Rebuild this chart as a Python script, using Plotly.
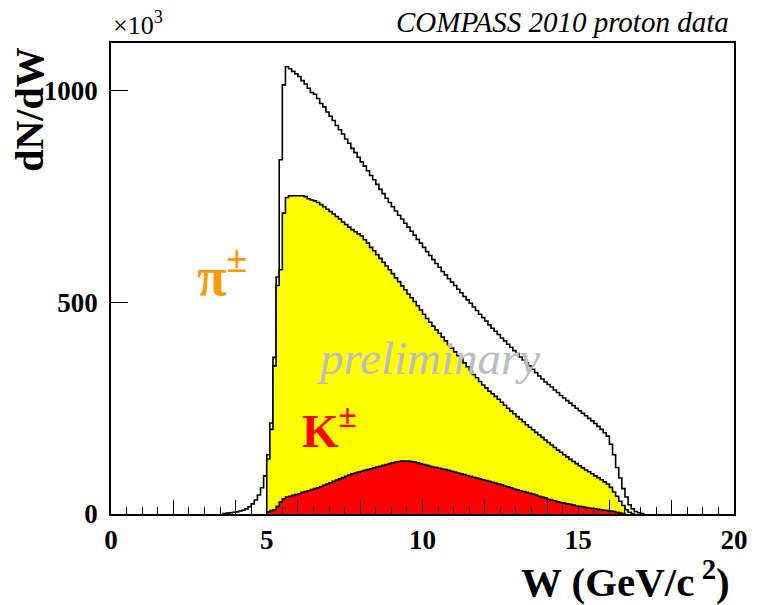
import numpy as np
import plotly.graph_objects as go

# Histogram binning (GeV/c^2)
BIN_WIDTH = 0.1

# All hadrons, counts per bin in units of 10^3, first bin starts at W = 3.6
total_start = 3.6
total_counts = [
    1, 2, 3, 4, 5, 7, 9, 12, 17, 24,
    33, 45, 62, 90, 140, 215, 370, 560, 837, 1014,
    1057, 1052, 1046, 1040, 1034, 1024, 1016, 1006, 996, 992,
    982, 970, 962, 950, 940, 930, 918, 908, 898, 886,
    876, 864, 854, 843, 832, 822, 811, 800, 790, 779,
    767, 757, 746, 736, 726, 716, 706, 697, 687, 678,
    668, 659, 649, 640, 630, 620, 611, 601, 592, 583,
    573, 565, 556, 548, 540, 531, 523, 514, 506, 498,
    489, 481, 472, 464, 456, 447, 439, 432, 424, 416,
    409, 401, 394, 386, 379, 371, 364, 357, 350, 342,
    334, 326, 319, 312, 306, 300, 293, 287, 280, 274,
    268, 262, 256, 250, 244, 238, 232, 226, 220, 214,
    207, 200, 192, 184, 165, 140, 110, 85, 60, 40,
    22, 12, 6, 3, 1,
]

# Identified pions, first bin starts at W = 5.0
pion_start = 5.0
pion_counts = [
    130, 200, 350, 540, 577, 711, 748, 752, 752, 752,
    752, 752, 750, 745, 742, 740, 736, 731, 726, 720,
    715, 709, 703, 697, 690, 684, 678, 672, 667, 662,
    657, 648, 640, 630, 622, 613, 604, 595, 586, 577,
    568, 558, 549, 539, 530, 520, 511, 502, 492, 482,
    472, 462, 453, 444, 435, 427, 418, 409, 400, 392,
    383, 374, 366, 357, 348, 339, 330, 322, 313, 305,
    298, 290, 284, 278, 271, 264, 257, 250, 243, 237,
    230, 224, 218, 211, 205, 199, 193, 187, 181, 175,
    169, 163, 157, 151, 146, 140, 135, 129, 124, 119,
    114, 109, 104, 100, 95, 90, 86, 81, 76, 71,
    63, 52, 42, 30, 20, 10, 4, 1,
]

# Identified kaons, first bin starts at W = 5.0
kaon_start = 5.0
kaon_counts = [
    5, 8, 10, 18, 28, 36, 40, 42, 44, 46,
    48, 51, 53, 55, 58, 60, 62, 65, 68, 71,
    74, 77, 80, 83, 86, 89, 92, 95, 97, 99,
    101, 103, 105, 107, 109, 111, 113, 115, 117, 119,
    121, 123, 124, 125, 125, 125, 124, 123, 121, 119,
    117, 115, 113, 111, 110, 108, 106, 105, 103, 101,
    99, 97, 95, 93, 91, 89, 87, 85, 83, 81,
    79, 77, 75, 73, 71, 69, 66, 64, 62, 59,
    57, 55, 53, 51, 49, 47, 45, 42, 40, 38,
    35, 33, 31, 29, 27, 26, 24, 23, 21, 19,
    18, 17, 15, 14, 13, 12, 11, 10, 9, 8,
    7, 6, 4, 2, 1,
]

X_RANGE = [0, 20]
Y_RANGE = [0, 1113]
x_label_vals = [0, 5, 10, 15, 20]
y_label_vals = [0, 500, 1000]

SERIF = "Liberation Serif"


def step_xy(start, counts):
    """Outline of a histogram: bin edges with the counts held across each bin."""
    counts = np.asarray(counts, dtype=float)
    edges = start + BIN_WIDTH * np.arange(len(counts) + 1)
    x = np.concatenate([[edges[0]], edges[:-1], [edges[-1], edges[-1]]])
    y = np.concatenate([[0.0], counts, [counts[-1], 0.0]])
    return x, y


fig = go.Figure()

tx, ty = step_xy(total_start, total_counts)
fig.add_trace(go.Scatter(x=tx, y=ty, mode="lines", line_shape="hv",
                         line=dict(color="black", width=1.6),
                         hoverinfo="skip", showlegend=False))

px_, py_ = step_xy(pion_start, pion_counts)
fig.add_trace(go.Scatter(x=px_, y=py_, mode="lines", line_shape="hv",
                         fill="toself", fillcolor="#ffff00",
                         line=dict(color="black", width=1.6),
                         hoverinfo="skip", showlegend=False))

kx, ky = step_xy(kaon_start, kaon_counts)
fig.add_trace(go.Scatter(x=kx, y=ky, mode="lines", line_shape="hv",
                         fill="toself", fillcolor="#ff0000",
                         line=dict(color="black", width=1.6),
                         hoverinfo="skip", showlegend=False))

tick_font = dict(family=SERIF, size=27, color="black", weight="bold")

fig.update_layout(
    width=760, height=605,
    margin=dict(l=111, r=24, t=43, b=91),
    paper_bgcolor="white", plot_bgcolor="white",
    xaxis=dict(
        range=X_RANGE, showgrid=False, zeroline=False,
        showline=True, linecolor="black", linewidth=1.6, mirror=True,
        tickmode="array", tickvals=list(range(0, 21, 2)),
        ticks="inside", ticklen=14, tickwidth=1.4, tickcolor="black",
        showticklabels=False,
        minor=dict(dtick=0.5, tick0=0, ticks="inside", ticklen=7,
                   tickwidth=1.4, tickcolor="black"),
    ),
    xaxis2=dict(
        range=X_RANGE, overlaying="x", anchor="y", side="bottom",
        showgrid=False, zeroline=False, showline=False,
        tickmode="array", tickvals=x_label_vals,
        ticktext=[str(v) for v in x_label_vals],
        ticks="", tickfont=tick_font, ticklabelstandoff=7,
    ),
    yaxis=dict(
        range=Y_RANGE, showgrid=False, zeroline=False,
        showline=True, linecolor="black", linewidth=1.6, mirror=True,
        tickmode="array", tickvals=y_label_vals,
        ticktext=[str(v) for v in y_label_vals],
        ticks="inside", ticklen=17, tickwidth=1.4, tickcolor="black",
        tickfont=tick_font, ticklabelstandoff=6,
    ),
)

# the label axis needs a trace of its own to be drawn
fig.add_trace(go.Scatter(x=[X_RANGE[0], X_RANGE[1]], y=[None, None],
                         xaxis="x2", yaxis="y", mode="lines",
                         hoverinfo="skip", showlegend=False))

annotations = [
    # axis titles
    dict(text="W (GeV/c<sup> 2</sup>)", xref="paper", yref="paper",
         x=0.997, y=-0.138, xanchor="right", yanchor="middle",
         font=dict(family=SERIF, size=41, color="black", weight="bold")),
    dict(text="dN/dW", xref="paper", yref="paper", textangle=-90,
         x=-0.130, y=0.995, xanchor="center", yanchor="top",
         font=dict(family=SERIF, size=40, color="black", weight="bold")),
    # scale factor of the y axis
    dict(text="×10<sup>3</sup>", xref="paper", yref="paper",
         x=0.0, y=1.0, xanchor="left", yanchor="bottom", yshift=1,
         font=dict(family=SERIF, size=26, color="black")),
    # data set header
    dict(text="COMPASS 2010 proton data", xref="paper", yref="paper",
         x=0.995, y=1.0, xanchor="right", yanchor="bottom", yshift=3,
         font=dict(family=SERIF, size=29, color="black", style="italic")),
    # species labels and watermark
    dict(text="π<sup>±</sup>", xref="x", yref="y", x=3.55, y=570,
         xanchor="center", yanchor="middle",
         font=dict(family=SERIF, size=54, color="#ff9900", weight="bold")),
    dict(text="K<sup>±</sup>", xref="x", yref="y", x=7.0, y=205,
         xanchor="center", yanchor="middle",
         font=dict(family=SERIF, size=47, color="#ff0000", weight="bold")),
    dict(text="preliminary", xref="x", yref="y", x=10.2, y=368,
         xanchor="center", yanchor="middle",
         font=dict(family=SERIF, size=47, color="#bdbdbd", style="italic")),
]
for a in annotations:
    a["showarrow"] = False
fig.update_layout(annotations=annotations)

fig.write_html("out.html")
